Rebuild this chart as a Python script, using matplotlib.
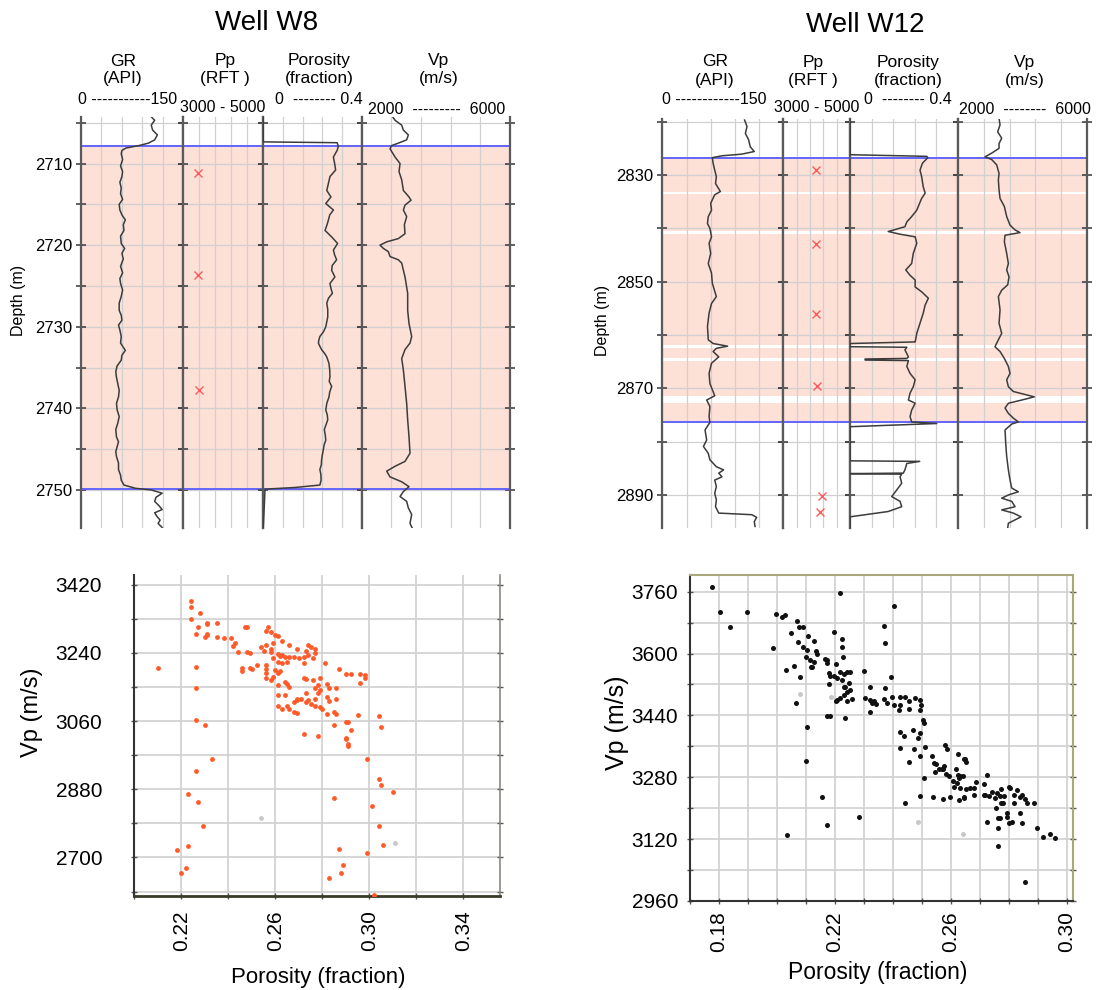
import matplotlib
matplotlib.use("Agg")
import matplotlib.pyplot as plt
import numpy as np

plt.rcParams['font.family'] = ['Liberation Sans', 'DejaVu Sans']

W, H = 1098, 990

# ---------------- Well W8 logs (depth m, value) ----------------
w8_zone = (2707.9, 2749.9)
w8_gr = [(2704.1, 101), (2704.7, 108), (2705.3, 103), (2705.9, 105), (2706.5, 112), (2707.1, 108),
         (2707.5, 99), (2707.8, 85), (2708.1, 66), (2708.4, 60), (2708.8, 59), (2709.5, 61),
         (2710.3, 58), (2711.0, 61), (2711.6, 60), (2712.3, 57), (2713.0, 59), (2713.7, 58),
         (2714.4, 61), (2715.0, 56), (2715.7, 57), (2716.3, 60), (2716.9, 65), (2717.5, 62),
         (2718.2, 63), (2718.9, 58), (2719.8, 59), (2720.4, 64), (2721.0, 60), (2721.7, 62),
         (2722.6, 58), (2723.4, 61), (2724.1, 57), (2724.7, 58), (2725.5, 61), (2726.3, 59),
         (2727.1, 56), (2728.0, 56), (2728.6, 59), (2729.2, 60), (2729.8, 55), (2730.4, 57),
         (2731.2, 59), (2732.0, 58), (2732.9, 65), (2733.5, 60), (2734.1, 59), (2734.8, 53),
         (2735.5, 51), (2736.2, 52), (2737.0, 54), (2737.8, 56), (2738.6, 55), (2739.4, 52),
         (2740.2, 53), (2741.0, 56), (2741.8, 54), (2742.6, 51), (2743.5, 52), (2744.1, 55),
         (2744.7, 53), (2745.3, 51), (2745.9, 52), (2746.7, 55), (2747.5, 55), (2748.2, 58),
         (2748.8, 59), (2749.4, 63), (2749.8, 80), (2750.0, 103), (2750.4, 119), (2750.9, 110),
         (2751.4, 108), (2751.9, 114), (2752.4, 119), (2752.8, 108), (2753.2, 111), (2753.7, 116),
         (2754.1, 113), (2754.6, 119)]
w8_pp = [(2711.15, 3360), (2723.6, 3375), (2737.7, 3392)]
w8_por = [(2704.3, 0.0), (2707.35, 0.0), (2707.45, 0.30), (2707.9, 0.305), (2708.4, 0.30),
          (2709.2, 0.285), (2710.0, 0.29), (2710.8, 0.294), (2711.6, 0.271), (2712.4, 0.265),
          (2713.3, 0.258), (2714.1, 0.275), (2714.9, 0.254), (2715.7, 0.285), (2716.3, 0.27),
          (2717.0, 0.264), (2717.6, 0.258), (2718.2, 0.251), (2719.0, 0.278), (2719.8, 0.302),
          (2720.6, 0.285), (2721.2, 0.29), (2721.8, 0.298), (2722.5, 0.28), (2723.1, 0.278),
          (2723.9, 0.291), (2724.7, 0.271), (2725.3, 0.275), (2725.9, 0.281), (2726.5, 0.265),
          (2727.1, 0.258), (2727.9, 0.262), (2728.8, 0.262), (2729.4, 0.258), (2730.0, 0.254),
          (2730.6, 0.245), (2731.2, 0.230), (2731.6, 0.226), (2732.0, 0.224), (2732.4, 0.23),
          (2732.8, 0.237), (2733.3, 0.25), (2733.7, 0.258), (2734.5, 0.267), (2735.3, 0.27),
          (2736.1, 0.271), (2736.7, 0.268), (2737.3, 0.278), (2738.0, 0.27), (2738.6, 0.267),
          (2739.4, 0.258), (2740.2, 0.254), (2740.8, 0.26), (2741.4, 0.262), (2742.0, 0.255),
          (2742.6, 0.248), (2743.3, 0.252), (2743.9, 0.254), (2744.5, 0.247), (2745.1, 0.244),
          (2745.7, 0.24), (2746.3, 0.237), (2746.9, 0.236), (2747.5, 0.230), (2748.1, 0.234),
          (2748.8, 0.235), (2749.4, 0.230), (2749.7, 0.129), (2749.9, 0.007), (2754.7, 0.0)]
w8_vp = [(2704.1, 2809), (2704.7, 2899), (2705.3, 3079), (2705.9, 3124), (2706.5, 3258), (2707.1, 3213),
         (2707.5, 2989), (2707.8, 2809), (2708.2, 2764), (2709.2, 2899), (2710.0, 3034), (2711.0, 3007),
         (2712.0, 3079), (2713.3, 3124), (2714.1, 3276), (2714.5, 3330), (2715.1, 3168), (2715.7, 3124),
         (2716.5, 3213), (2717.5, 3151), (2718.6, 3168), (2719.2, 2989), (2719.6, 2674), (2720.0, 2494),
         (2720.4, 2584), (2720.8, 2719), (2721.4, 2764), (2721.8, 2989), (2722.2, 3079), (2723.9, 3168),
         (2725.9, 3240), (2728.0, 3240), (2729.6, 3276), (2731.2, 3348), (2732.0, 3303), (2732.8, 3168),
         (2733.9, 3079), (2735.3, 3124), (2737.3, 3168), (2739.4, 3213), (2741.4, 3240), (2743.5, 3276),
         (2745.5, 3303), (2746.5, 3168), (2747.1, 2899), (2747.7, 2674), (2748.4, 2764), (2749.0, 3079),
         (2749.6, 3276), (2750.2, 3124), (2750.8, 3034), (2751.4, 3213), (2752.2, 3258), (2753.0, 3348),
         (2754.1, 3303), (2754.7, 3366)]

# ---------------- Well W12 logs ----------------
w12_zone = (2826.75, 2876.4)
w12_gaps = [(2833.15, 2833.65), (2840.5, 2841.05), (2861.85, 2862.35), (2864.35, 2864.85), (2871.4, 2872.7)]
w12_gr = [(2819.7, 102), (2820.9, 105), (2822.2, 103), (2823.4, 107), (2824.7, 109), (2825.6, 114),
          (2826.1, 98), (2826.4, 74), (2826.75, 62), (2827.8, 63), (2829.1, 65), (2830.3, 67),
          (2831.6, 66), (2833.1, 72), (2833.7, 65), (2835.3, 60), (2836.6, 61), (2837.8, 57),
          (2839.1, 56), (2840.0, 59), (2841.6, 61), (2842.8, 58), (2844.7, 60), (2846.6, 57),
          (2848.4, 61), (2850.3, 62), (2852.8, 67), (2854.1, 61), (2855.9, 58), (2858.4, 56),
          (2860.9, 57), (2861.6, 63), (2862.1, 81), (2862.5, 67), (2863.1, 63), (2864.1, 70),
          (2865.3, 61), (2867.2, 58), (2869.1, 59), (2871.4, 65), (2872.2, 55), (2873.4, 59),
          (2875.3, 58), (2876.4, 59), (2877.8, 53), (2879.7, 55), (2880.9, 51), (2882.2, 57),
          (2883.4, 59), (2884.7, 67), (2885.3, 76), (2885.9, 70), (2886.6, 74), (2887.2, 65),
          (2888.4, 67), (2889.7, 65), (2890.9, 67), (2892.2, 66), (2893.4, 70), (2893.7, 111),
          (2894.2, 117), (2895.0, 114), (2895.9, 115)]
w12_pp = [(2829.1, 3970), (2843.0, 3990), (2856.0, 3990), (2869.6, 4010), (2890.1, 4170), (2893.1, 4110)]
w12_por = [(2819.5, 0.0), (2826.2, 0.0), (2826.5, 0.285), (2826.75, 0.289), (2827.8, 0.269),
           (2829.1, 0.260), (2830.3, 0.266), (2832.2, 0.272), (2833.4, 0.279), (2834.4, 0.266),
           (2835.6, 0.256), (2836.6, 0.248), (2837.8, 0.229), (2838.8, 0.211), (2839.7, 0.204),
           (2840.6, 0.142), (2841.1, 0.186), (2841.6, 0.242), (2842.8, 0.248), (2844.7, 0.235),
           (2846.6, 0.229), (2847.8, 0.207), (2848.8, 0.223), (2849.7, 0.242), (2851.0, 0.242),
           (2851.9, 0.266), (2853.1, 0.291), (2854.4, 0.279), (2855.9, 0.272), (2857.8, 0.260),
           (2859.7, 0.248), (2861.3, 0.242), (2861.6, 0.0), (2862.2, 0.0), (2862.3, 0.211),
           (2862.8, 0.204), (2864.1, 0.217), (2864.4, 0.211), (2864.5, 0.056), (2864.7, 0.056),
           (2864.8, 0.217), (2865.9, 0.211), (2867.2, 0.223), (2868.4, 0.242), (2869.7, 0.235),
           (2870.9, 0.223), (2872.2, 0.217), (2872.8, 0.242), (2874.1, 0.229), (2875.3, 0.223),
           (2876.3, 0.229), (2876.6, 0.322), (2877.2, 0.0), (2883.6, 0.0), (2883.7, 0.259),
           (2884.1, 0.211), (2885.3, 0.204), (2885.9, 0.198), (2886.0, 0.0), (2886.1, 0.192),
           (2886.6, 0.186), (2887.8, 0.192), (2889.1, 0.173), (2890.3, 0.155), (2891.2, 0.186),
           (2892.2, 0.192), (2893.1, 0.142), (2894.1, 0.0), (2896.2, 0.0)]
w12_vp = [(2819.4, 3276), (2820.6, 3307), (2821.9, 3234), (2823.1, 3358), (2824.1, 3276), (2825.0, 3276),
          (2825.9, 3049), (2826.6, 2842), (2827.1, 3049), (2828.1, 3204), (2829.7, 3276), (2830.9, 3255),
          (2832.8, 3276), (2834.4, 3307), (2835.9, 3440), (2837.8, 3512), (2839.4, 3615), (2840.3, 3770),
          (2840.8, 3924), (2841.3, 3461), (2842.5, 3440), (2844.7, 3512), (2846.6, 3564), (2847.8, 3512),
          (2849.1, 3584), (2850.6, 3543), (2851.6, 3358), (2852.8, 3255), (2855.3, 3307), (2857.8, 3276),
          (2859.7, 3358), (2860.9, 3255), (2862.2, 3150), (2863.1, 3307), (2864.4, 3440), (2865.9, 3564),
          (2867.2, 3615), (2868.4, 3512), (2869.7, 3564), (2870.6, 3718), (2871.6, 4364), (2872.2, 3976),
          (2872.8, 3564), (2873.7, 3461), (2874.7, 3564), (2875.6, 3718), (2876.3, 3872), (2876.7, 3667),
          (2877.8, 3461), (2880.3, 3482), (2882.8, 3512), (2885.3, 3564), (2887.2, 3615), (2888.7, 3667),
          (2889.4, 3872), (2890.0, 3564), (2890.6, 3358), (2891.2, 3667), (2892.2, 3770), (2892.8, 3358),
          (2893.4, 3718), (2894.1, 3955), (2895.3, 3564), (2896.2, 3543)]

track_lims = [(0, 150), (3000, 5000), (0, 0.4), (2000, 6000)]
track_names = ["GR", "Pp", "Porosity", "Vp"]
track_units = ["(API)", "(RFT )", "(fraction)", "(m/s)"]
w8_scales = ["0 -----------150", "3000 - 5000", "0  -------- 0.4", "2000  ---------  6000"]
w12_scales = ["0 ------------150", "3000 - 5000", "0  -------- 0.4", "2000  --------  6000"]

# ---------------- crossplots (porosity, Vp) ----------------
w8_xplot = [(0.224, 3378), (0.224, 3360), (0.224, 3329), (0.228, 3345), (0.231, 3319), (0.235, 3319),
            (0.231, 3315), (0.227, 3307), (0.226, 3291), (0.231, 3291), (0.230, 3282), (0.231, 3287),
            (0.235, 3283), (0.238, 3278), (0.241, 3278), (0.247, 3307), (0.248, 3307), (0.243, 3266),
            (0.244, 3242), (0.242, 3258), (0.248, 3242), (0.249, 3240), (0.257, 3309), (0.256, 3298),
            (0.258, 3296), (0.260, 3287), (0.261, 3284), (0.263, 3271), (0.259, 3266), (0.256, 3262),
            (0.254, 3255), (0.258, 3251), (0.255, 3244), (0.258, 3241), (0.261, 3237), (0.259, 3226),
            (0.262, 3233), (0.264, 3228), (0.266, 3230), (0.266, 3260), (0.269, 3251), (0.270, 3226),
            (0.274, 3260), (0.275, 3255), (0.277, 3251), (0.277, 3240), (0.273, 3244), (0.274, 3235),
            (0.276, 3226), (0.272, 3228), (0.261, 3217), (0.263, 3213), (0.265, 3217), (0.268, 3228),
            (0.210, 3200), (0.226, 3204), (0.246, 3200), (0.246, 3191), (0.249, 3201), (0.250, 3198),
            (0.252, 3207), (0.256, 3208), (0.256, 3198), (0.256, 3186), (0.256, 3173), (0.258, 3168),
            (0.260, 3195), (0.261, 3186), (0.262, 3191), (0.259, 3177), (0.261, 3155), (0.264, 3164),
            (0.265, 3159), (0.266, 3150), (0.263, 3235), (0.272, 3213), (0.281, 3213), (0.287, 3197),
            (0.290, 3183), (0.292, 3183), (0.296, 3183), (0.298, 3182), (0.298, 3173), (0.296, 3161),
            (0.272, 3173), (0.273, 3171), (0.276, 3168), (0.279, 3173), (0.282, 3159), (0.278, 3155),
            (0.277, 3148), (0.283, 3148), (0.286, 3146), (0.261, 3128), (0.264, 3128), (0.273, 3133),
            (0.271, 3119), (0.269, 3119), (0.269, 3115), (0.268, 3110), (0.266, 3092), (0.268, 3085),
            (0.269, 3082), (0.265, 3101), (0.261, 3101), (0.263, 3092), (0.273, 3110), (0.274, 3115),
            (0.275, 3106), (0.277, 3119), (0.278, 3133), (0.279, 3142), (0.277, 3101), (0.279, 3097),
            (0.282, 3124), (0.286, 3119), (0.283, 3112), (0.280, 3092), (0.282, 3079), (0.285, 3084),
            (0.286, 3079), (0.295, 3076), (0.304, 3073), (0.226, 3146), (0.226, 3063), (0.230, 3050),
            (0.285, 3050), (0.290, 3057), (0.291, 3057), (0.292, 3037), (0.305, 3043), (0.272, 3027),
            (0.278, 3021), (0.290, 3015), (0.290, 3012), (0.291, 2999), (0.291, 2993), (0.233, 2960),
            (0.226, 2927), (0.299, 2960), (0.304, 2907), (0.305, 2892), (0.310, 2872), (0.223, 2867),
            (0.285, 2858), (0.227, 2846), (0.301, 2836), (0.229, 2783), (0.304, 2783), (0.306, 2733),
            (0.223, 2730), (0.218, 2720), (0.287, 2722), (0.299, 2713), (0.222, 2672), (0.220, 2659),
            (0.289, 2680), (0.288, 2658), (0.283, 2645), (0.302, 2600)]
w8_xplot_grey = [(0.254, 2803), (0.311, 2738)]

w12_xplot = [(0.1775, 3773), (0.1803, 3708), (0.1837, 3669), (0.1898, 3707), (0.1987, 3613), (0.1997, 3701),
             (0.2018, 3695), (0.2026, 3700), (0.2068, 3685), (0.2076, 3669), (0.2090, 3669), (0.2047, 3652),
             (0.2072, 3631), (0.2107, 3644), (0.2127, 3633), (0.2090, 3616), (0.2104, 3609), (0.2099, 3592),
             (0.2113, 3583), (0.2121, 3564), (0.2116, 3564), (0.2136, 3607), (0.2139, 3599), (0.2127, 3579),
             (0.2058, 3568), (0.2030, 3557), (0.2081, 3540), (0.2064, 3473), (0.2104, 3411), (0.2100, 3323),
             (0.2198, 3655), (0.2225, 3638), (0.2225, 3616), (0.2227, 3590), (0.2167, 3585), (0.2173, 3583),
             (0.2171, 3575), (0.2205, 3572), (0.2179, 3549), (0.2182, 3542), (0.2196, 3542), (0.2179, 3521),
             (0.2219, 3553), (0.2225, 3532), (0.2208, 3536), (0.2231, 3547), (0.2242, 3553), (0.2251, 3551),
             (0.2299, 3556), (0.2219, 3756), (0.2403, 3724), (0.2368, 3672), (0.2371, 3626), (0.2320, 3514),
             (0.2374, 3510), (0.2394, 3538), (0.2236, 3514), (0.2242, 3501), (0.2253, 3506), (0.2231, 3493),
             (0.2219, 3484), (0.2242, 3478), (0.2259, 3482), (0.2208, 3480), (0.2202, 3478), (0.2231, 3514),
             (0.2248, 3523), (0.2236, 3432), (0.2171, 3439), (0.2182, 3439), (0.2305, 3484), (0.2322, 3480),
             (0.2334, 3476), (0.2340, 3470), (0.2328, 3473), (0.2322, 3450), (0.2368, 3482), (0.2380, 3471),
             (0.2397, 3487), (0.2403, 3467), (0.2426, 3488), (0.2443, 3487), (0.2426, 3467), (0.2454, 3476),
             (0.2454, 3456), (0.2477, 3484), (0.2495, 3480), (0.2497, 3467), (0.2495, 3454), (0.2504, 3428),
             (0.2506, 3420), (0.2420, 3454), (0.2423, 3355), (0.2437, 3387), (0.2469, 3401), (0.2472, 3352),
             (0.2454, 3319), (0.2495, 3395), (0.2485, 3381), (0.2495, 3335), (0.2512, 3357), (0.2506, 3277),
             (0.2495, 3232), (0.2443, 3213), (0.2423, 3396), (0.2535, 3335), (0.2541, 3318), (0.2550, 3314),
             (0.2546, 3293), (0.2558, 3301), (0.2569, 3301), (0.2581, 3363), (0.2586, 3352), (0.2575, 3309),
             (0.2584, 3288), (0.2592, 3282), (0.2573, 3301), (0.2538, 3230), (0.2573, 3223), (0.2596, 3228),
             (0.2623, 3340), (0.2644, 3326), (0.2650, 3326), (0.2653, 3320), (0.2619, 3301), (0.2623, 3286),
             (0.2627, 3277), (0.2632, 3283), (0.2642, 3282), (0.2607, 3271), (0.2609, 3256), (0.2621, 3264),
             (0.2632, 3251), (0.2644, 3230), (0.2646, 3226), (0.2627, 3221), (0.2653, 3249), (0.2667, 3251),
             (0.2678, 3253), (0.2687, 3269), (0.2715, 3263), (0.2724, 3286), (0.2681, 3234), (0.2715, 3233),
             (0.2718, 3234), (0.2733, 3232), (0.2741, 3243), (0.2759, 3238), (0.2753, 3226), (0.2756, 3200),
             (0.2768, 3232), (0.2772, 3249), (0.2782, 3232), (0.2772, 3213), (0.2764, 3174), (0.2770, 3174),
             (0.2779, 3213), (0.2799, 3256), (0.2805, 3251), (0.2816, 3234), (0.2818, 3213), (0.2828, 3247),
             (0.2837, 3230), (0.2845, 3234), (0.2856, 3223), (0.2864, 3214), (0.2885, 3214), (0.2839, 3187),
             (0.2795, 3178), (0.2799, 3161), (0.2810, 3165), (0.2845, 3161), (0.2795, 3187), (0.2724, 3163),
             (0.2764, 3148), (0.2764, 3103), (0.2856, 3010), (0.2896, 3150), (0.2919, 3125), (0.2942, 3133),
             (0.2960, 3122), (0.2033, 3131), (0.2156, 3230), (0.2171, 3157), (0.2282, 3176)]
w12_xplot_grey = [(0.2081, 3495), (0.2185, 3487), (0.2487, 3165), (0.2640, 3132)]

SHADE = '#fde0d6'
BLUE = '#6464ff'
CURVE = '#3c3c3c'
BORDER = '#5a5a5a'
GRID = '#d0d0d0'

fig = plt.figure(figsize=(W / 100, H / 100), dpi=100)


def box(x0, y0, x1, y1):
    return [x0 / W, 1 - y1 / H, (x1 - x0) / W, (y1 - y0) / H]


def ftext(x, y, s, **kw):
    fig.text(x / W, 1 - y / H, s, ha='center', va='center', **kw)


def draw_well(borders, y_top, y_bot, depth_lim, zone, gaps, gr, pp, por, vp,
              grid_step, labels, name_x, scale_x, scale_y, name_y, scales):
    logs = [gr, None, por, vp]
    ticks = np.arange(np.ceil(depth_lim[1] / grid_step) * grid_step, depth_lim[0], grid_step)
    for i in range(4):
        ax = fig.add_axes(box(borders[i], y_top, borders[i + 1], y_bot))
        lo, hi = track_lims[i]
        ax.set_xlim(lo, hi)
        ax.set_ylim(depth_lim)
        ax.axhspan(zone[0], zone[1], color=SHADE, lw=0, zorder=0)
        for g0, g1 in gaps:
            ax.axhspan(g0, g1, color='white', lw=0, zorder=0.2)
        ax.set_xticks(np.linspace(lo, hi, 6))
        ax.set_yticks(ticks)
        ax.set_axisbelow(True)
        ax.grid(True, color=GRID, lw=0.9)
        ax.tick_params(axis='x', length=0, labelbottom=False)
        ax.tick_params(axis='y', direction='inout', length=7, width=1.2, color='#444',
                       left=True, right=True, labelleft=(i == 0), labelsize=12, pad=3)
        if i == 0:
            ax.set_yticklabels([str(int(round(t))) if int(round(t)) in labels else '' for t in ticks])
        for s in ['top', 'bottom']:
            ax.spines[s].set_visible(False)
        for s in ['left', 'right']:
            ax.spines[s].set_color(BORDER)
            ax.spines[s].set_linewidth(1.6)
        ax.axhline(zone[0], color=BLUE, lw=1.4, zorder=2)
        ax.axhline(zone[1], color=BLUE, lw=1.4, zorder=2)
        if logs[i] is not None:
            d, v = np.array(logs[i]).T
            ax.plot(v, d, color=CURVE, lw=1.1, zorder=3)
        else:
            d, v = np.array(pp).T
            ax.plot(v, d, 'x', color='#ff5a5a', ms=6, mew=1.0, zorder=3)
        ftext(name_x[i], name_y, track_names[i], fontsize=12.5)
        ftext(name_x[i], name_y + 18, track_units[i], fontsize=12.5)
        ftext(scale_x[i], scale_y[i], scales[i], fontsize=11.5)


# ---- Well W8 ----
ftext(267, 23, "Well W8", fontsize=20)
draw_well([81, 183.3, 263.3, 361.7, 510], 117, 528.3, (2754.7, 2704.3), w8_zone, [],
          w8_gr, w8_pp, w8_por, w8_vp, 5, {2710, 2720, 2730, 2740, 2750},
          [123, 225, 319, 439], [128, 223, 319, 437], [100, 108, 100, 109], 61, w8_scales)
fig.text(18 / W, 1 - 300 / H, "Depth (m)", rotation=90, ha='center', va='center', fontsize=11.5)

# ---- Well W12 ----
ftext(865, 25, "Well W12", fontsize=20)
draw_well([662.3, 783.3, 850, 957.7, 1087.3], 119, 528.3, (2896.25, 2819.5), w12_zone, w12_gaps,
          w12_gr, w12_pp, w12_por, w12_vp, 10, {2830, 2850, 2870, 2890},
          [715, 813, 908, 1025], [714, 817, 908, 1025], [100, 108, 100, 110], 62, w12_scales)
fig.text(602 / W, 1 - 320 / H, "Depth (m)", rotation=90, ha='center', va='center', fontsize=11.5)


def crossplot(pos, pts, grey, color, size, xlim, ylim, xmaj, xmin, ymaj, ymin, ypad, xpad, spine_cols):
    ax = fig.add_axes(box(*pos))
    p, v = np.array(pts).T
    ax.scatter(p, v, s=size, c=color, lw=0, zorder=3)
    gp, gv = np.array(grey).T
    ax.scatter(gp, gv, s=size, c='#c8c8c8', lw=0, zorder=3)
    ax.set_xlim(xlim)
    ax.set_ylim(ylim)
    ax.set_xticks(xmaj)
    ax.set_xticks(xmin, minor=True)
    ax.set_yticks(ymaj)
    ax.set_yticks(ymin, minor=True)
    ax.set_xticklabels([f'{x:.2f}' for x in xmaj], rotation=90)
    ax.set_axisbelow(True)
    ax.grid(True, which='both', color=GRID, lw=1.2)
    ax.tick_params(which='both', direction='inout', length=5, width=1, color='#555',
                   right=True, top=False)
    ax.tick_params(axis='y', labelsize=15, pad=ypad)
    ax.tick_params(axis='x', labelsize=15, pad=xpad)
    for s, (c, lw) in spine_cols.items():
        if c is None:
            ax.spines[s].set_visible(False)
        else:
            ax.spines[s].set_color(c)
            ax.spines[s].set_linewidth(lw)
    return ax


crossplot((133.5, 575.2, 499.7, 895.7), w8_xplot, w8_xplot_grey, '#ff5a28', 12,
          (0.1996, 0.3555), (2599, 3445),
          [0.22, 0.26, 0.30, 0.34], np.arange(0.20, 0.3501, 0.02),
          [2700, 2880, 3060, 3240, 3420], np.arange(2610, 3421, 90), 20, 8,
          {'left': ('#333333', 1.5), 'bottom': ('#3a3a28', 2.0), 'right': ('#8a8a7a', 1.2), 'top': (None, 0)})
ftext(32, 712, "Vp (m/s)", fontsize=17, rotation=90)
ftext(318, 978, "Porosity (fraction)", fontsize=16)

crossplot((690, 575, 1072.7, 901), w12_xplot, w12_xplot_grey, '#111111', 13,
          (0.1702, 0.3020), (2960, 3803),
          [0.18, 0.22, 0.26, 0.30], np.arange(0.17, 0.3001, 0.01),
          [2960, 3120, 3280, 3440, 3600, 3760], np.arange(2960, 3801, 80), 6, 5,
          {'left': ('#333333', 1.5), 'bottom': ('#333333', 1.5), 'right': ('#aaa878', 1.5),
           'top': ('#aaa878', 1.5)})
ftext(617, 723, "Vp (m/s)", fontsize=18, rotation=90)
ftext(878, 972, "Porosity (fraction)", fontsize=16.5)

fig.savefig("out.png", dpi=100)
